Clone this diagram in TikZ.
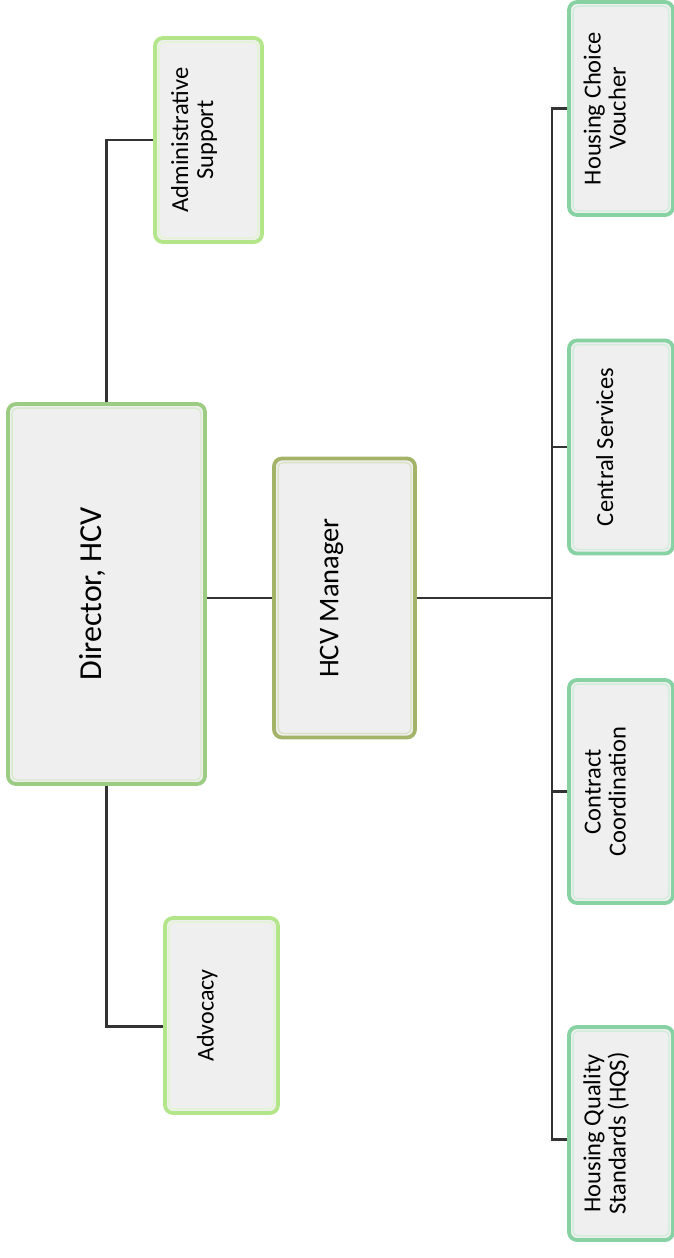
\documentclass[tikz,border=0pt]{standalone}
\usepackage{fontspec}
\usepackage{graphicx}
\setmainfont{Carlito}
\usetikzlibrary{calc}

\definecolor{boxfill}{HTML}{EFEFEF}
\definecolor{linkgray}{HTML}{333333}
\definecolor{dirgreen}{HTML}{9CCB82}
\definecolor{mgrgreen}{HTML}{A3B468}
\definecolor{sidegreen}{HTML}{B3E589}
\definecolor{teamgreen}{HTML}{86D2A2}

\tikzset{
  orgbox/.style={draw=#1, line width=3.8pt, rounded corners=8pt, fill=boxfill,
                 inner sep=0pt, text=black},
  innerrim/.style={draw=#1!40!white, line width=1.3pt, rounded corners=5pt},
  link/.style={draw=linkgray, line width=2.5pt},
}

% text set upright and turned a quarter turn, nudged towards the left edge
\newcommand{\vlabel}[3]{\rotatebox{90}{\fontsize{#1}{#2}\selectfont
  \begin{tabular}{@{}c@{}}#3\end{tabular}}\hspace*{26pt}}

\begin{document}
\begin{tikzpicture}
\useasboundingbox (0pt,0pt) rectangle (674pt,-1258pt);

% director and staff units
\node[orgbox=dirgreen, minimum width=197pt, minimum height=380pt] (dir)
  at (106.5pt,-594pt) {\vlabel{32}{38}{Director, HCV}};
\node[orgbox=sidegreen, minimum width=107pt, minimum height=204pt] (adm)
  at (208.5pt,-140pt) {\vlabel{24.5}{25}{Administrative\\Support}};
\node[orgbox=sidegreen, minimum width=113pt, minimum height=195pt] (adv)
  at (221.5pt,-1015.5pt) {\vlabel{24}{25}{Advocacy}};
\node[orgbox=mgrgreen, minimum width=141pt, minimum height=279pt] (mgr)
  at (344.5pt,-598pt) {\vlabel{28.5}{34}{HCV Manager}};

% program teams
\node[orgbox=teamgreen, minimum width=104pt, minimum height=213pt] (hcvv)
  at (621pt,-108.5pt) {\vlabel{24.5}{25}{Housing Choice\\Voucher}};
\node[orgbox=teamgreen, minimum width=104pt, minimum height=213pt] (cs)
  at (621pt,-447pt) {\vlabel{24.5}{25}{Central Services}};
\node[orgbox=teamgreen, minimum width=104pt, minimum height=223pt] (cc)
  at (621pt,-791.5pt) {\vlabel{24.5}{25}{Contract\\Coordination}};
\node[orgbox=teamgreen, minimum width=104pt, minimum height=213pt] (hqs)
  at (621pt,-1133.5pt) {\vlabel{24.5}{25}{Housing Quality\\Standards (HQS)}};

% inner rims
\foreach \n/\c in {dir/dirgreen, adm/sidegreen, adv/sidegreen, mgr/mgrgreen,
                   hcvv/teamgreen, cs/teamgreen, cc/teamgreen, hqs/teamgreen}
  \draw[innerrim=\c] ($(\n.south west)+(6pt,6pt)$) rectangle ($(\n.north east)-(6pt,6pt)$);

% connectors
\coordinate (bus) at (552pt,0pt);
\draw[link] (dir.north) |- (adm.west);
\draw[link] (dir.south) |- ($(adv.west)+(0pt,-11pt)$);
\draw[link] (mgr.west -| dir.east) -- (mgr.west);
\draw[link] (mgr.east) -- (mgr.east -| bus);
\draw[link] (hcvv.west) -- (hcvv.west -| bus) -- ($(hqs.west -| bus)+(0pt,-6pt)$)
  -- ($(hqs.west)+(0pt,-6pt)$);
\draw[link] (cs.west) -- (cs.west -| bus);
\draw[link] (cc.west) -- (cc.west -| bus);
\end{tikzpicture}
\end{document}
